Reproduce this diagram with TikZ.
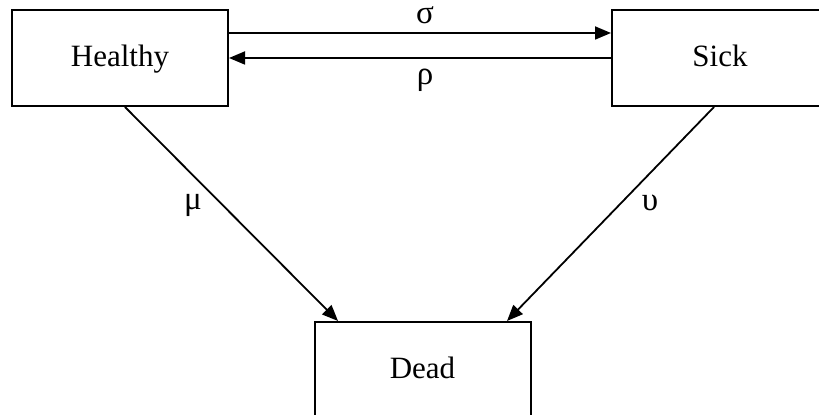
\documentclass[tikz,border=0pt]{standalone}
\usepackage{fontspec}
\setmainfont{Liberation Serif}
\usetikzlibrary{positioning,arrows.meta,calc}

\begin{document}
\begin{tikzpicture}[
  x=0.5pt, y=-0.5pt,
  every node/.style={font=\fontsize{15.5}{18}\selectfont},
  state/.style={
    rectangle, draw=black, line width=1pt, fill=white,
    minimum width=108pt, minimum height=48pt, inner sep=0pt,
    text height=12pt, text depth=3pt
  },
  arr/.style={-{Triangle[length=8pt,width=6.5pt]}, line width=0.9pt, draw=black},
  rate/.style={inner sep=0pt, font=\fontsize{16.5}{18}\selectfont}
]
\useasboundingbox (0,0) rectangle (819,415);
\clip (0,0) rectangle (819,415);

% Three states
\node[state] (healthy) at (120,58)  {Healthy};
\node[state] (sick)    at (720,58)  {Sick};
\node[state] (dead)    at (422.5,370) {Dead};

% Transitions between healthy and sick
\draw[arr] ($(healthy.east)+(0,-25)$) -- ($(sick.west)+(0,-25)$);
\draw[arr] (sick.west) -- (healthy.east);

% Transitions to dead
\draw[arr] ($(healthy.south)+(5,0)$) -- ($(dead.north)+(-84.5,0)$);
\draw[arr] ($(sick.south)+(-6,0)$) -- ($(dead.north)+(84.5,0)$);

% Rates
\node[rate] (sigma) at (425,15)  {σ};
\node[rate] (rho)   at (425,80)  {ρ};
\node[rate] (mu)    at (193,205) {μ};
\node[rate] (ups)   at (650,203) {υ};

\end{tikzpicture}
\end{document}
